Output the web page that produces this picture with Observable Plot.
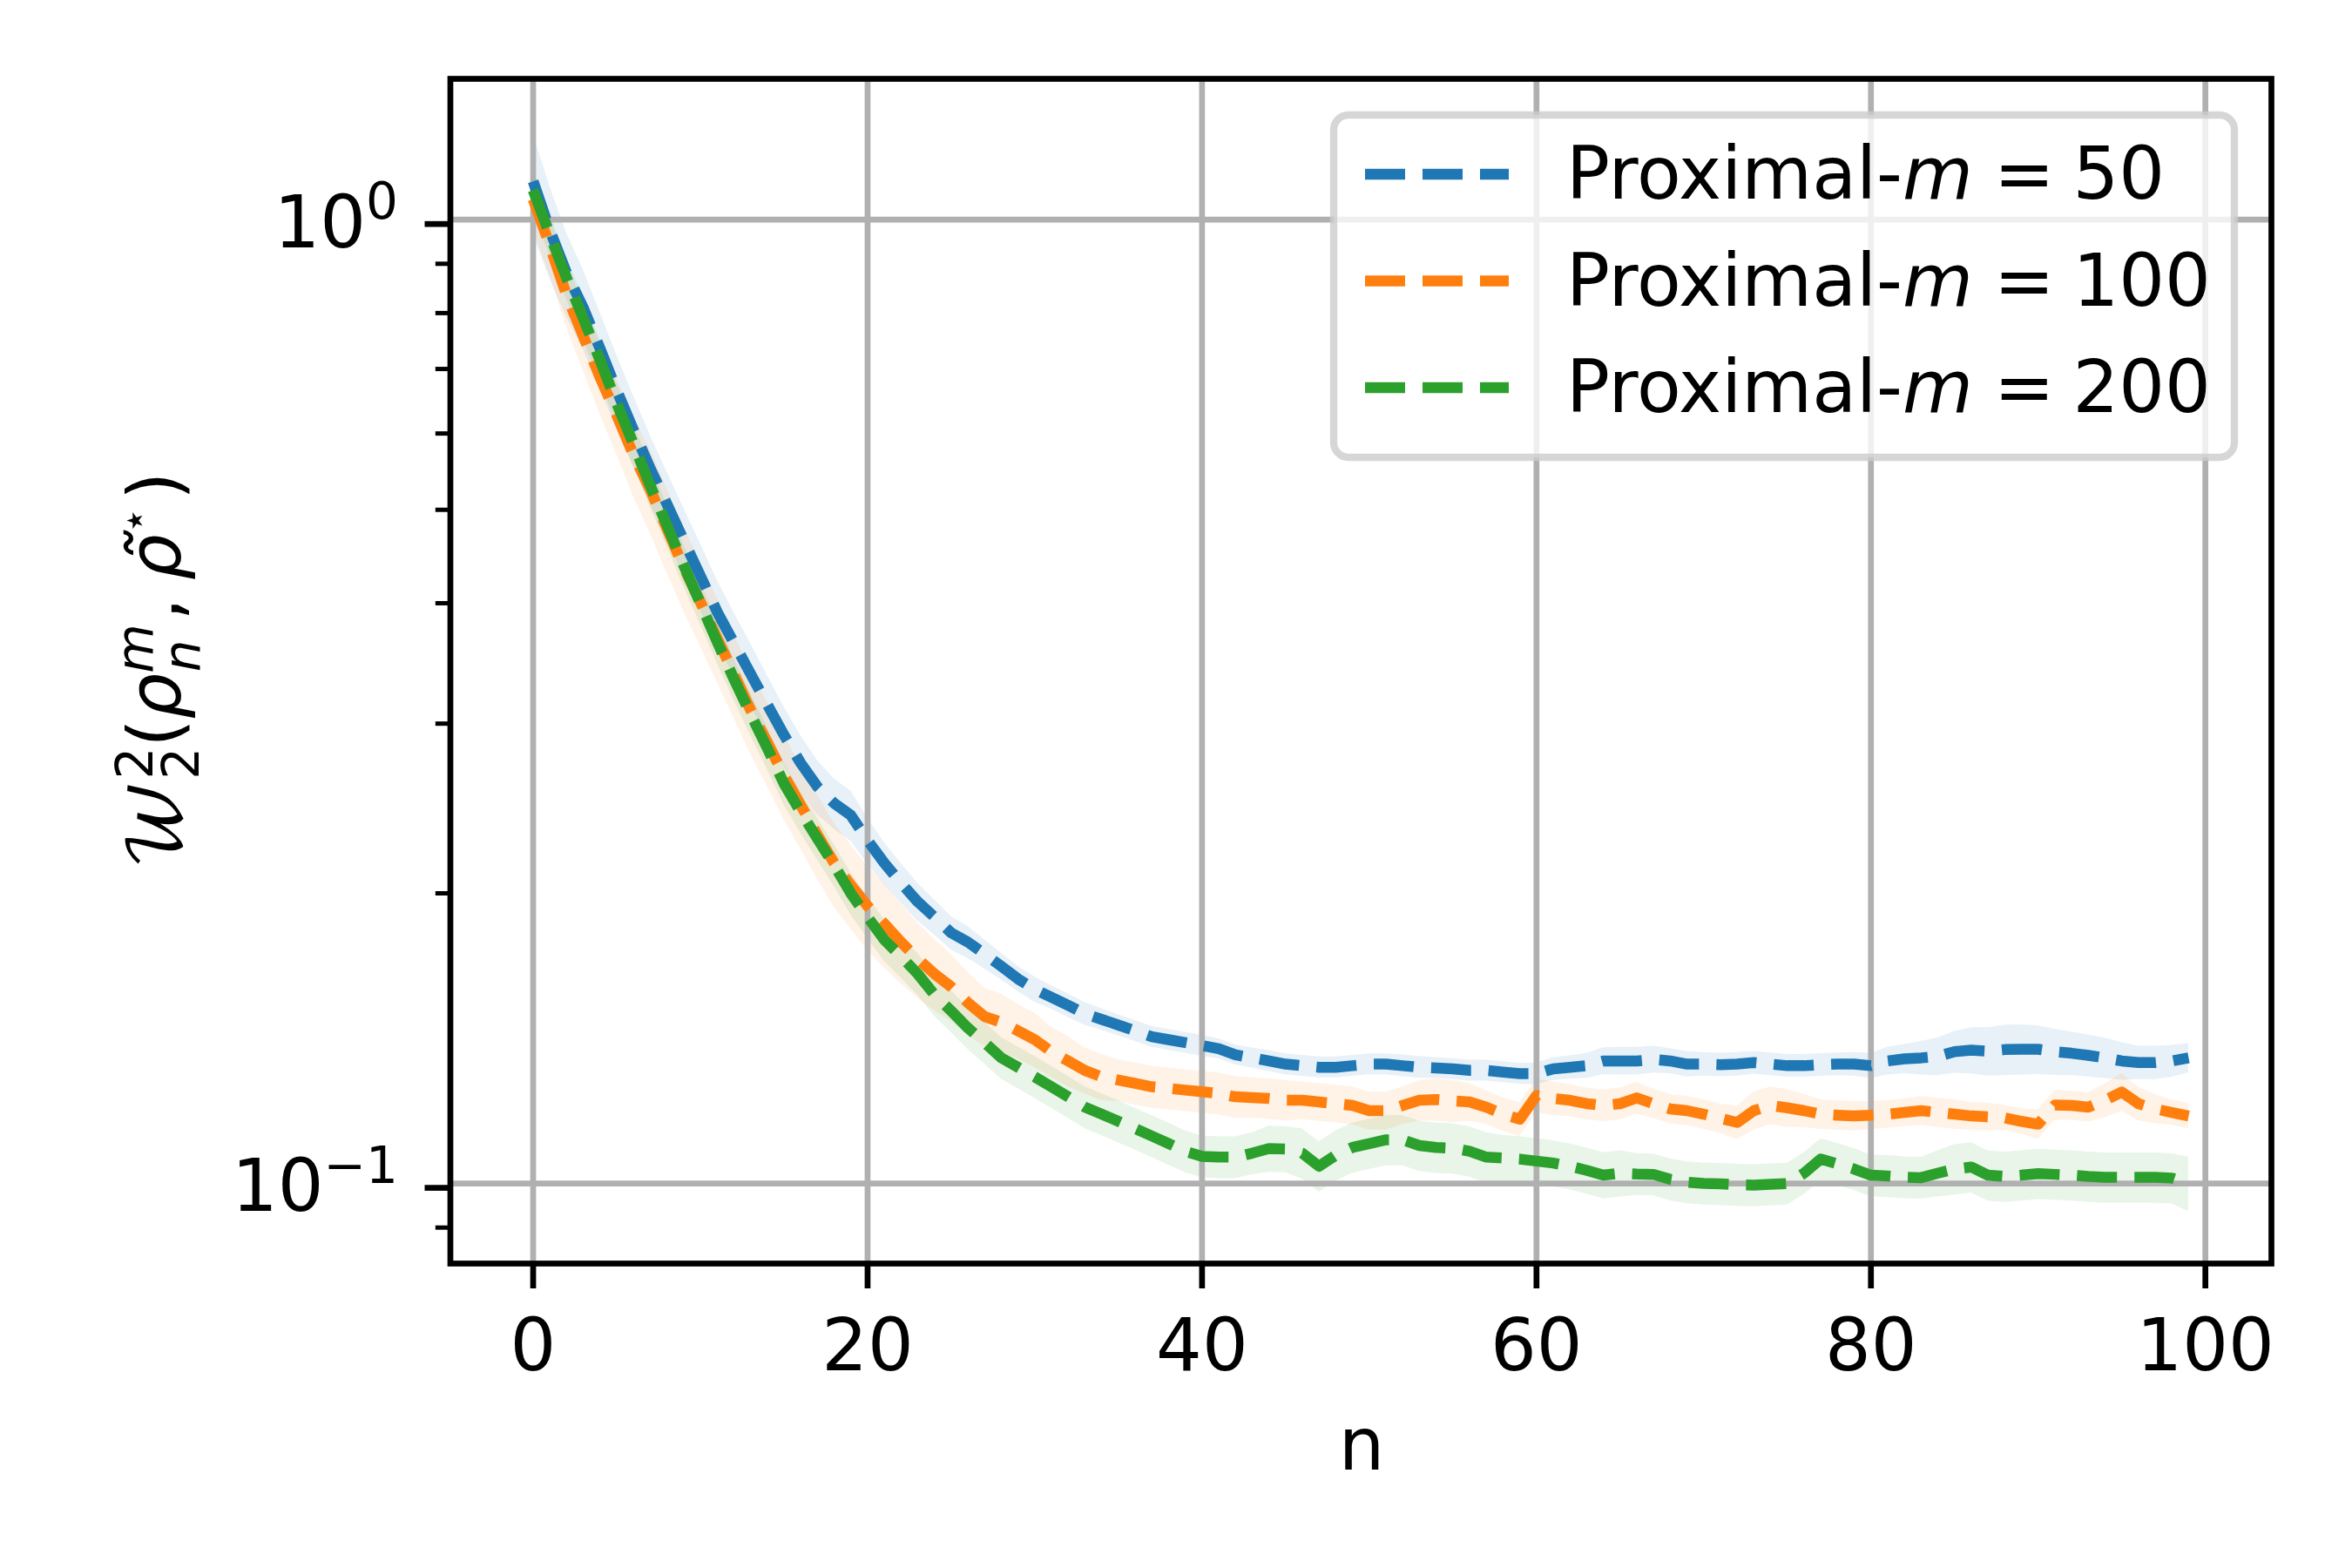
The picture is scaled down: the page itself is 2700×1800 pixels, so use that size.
<!DOCTYPE html>
<html>
<head>
<meta charset="utf-8">
<script src="https://cdn.jsdelivr.net/npm/d3@7"></script>
<script src="https://cdn.jsdelivr.net/npm/@observablehq/plot@0.6"></script>
<style>
  html, body { margin: 0; padding: 0; background: #fff; }
  svg { display: block; }
</style>
</head>
<body>
<div id="chart"></div>
<script>
// ---- data ----
const seriesNames = ["50", "100", "200"];          // m values in the legend
const seriesColors = ["#1f77b4", "#ff7f0e", "#2ca02c"];

const meanM50 = [1.096,0.975,0.88,0.81,0.735,0.665,0.605,0.552,0.507,0.465,
0.427,0.392,0.364,0.338,0.314,0.292,0.273,0.258,0.248,0.241,
0.227,0.215,0.205,0.196,0.189,0.182,0.178,0.173,0.168,0.163,
0.159,0.156,0.153,0.150,0.148,0.146,0.144,0.142,0.141,0.140,
0.139,0.138,0.136,0.135,0.134,0.133,0.1325,0.132,0.132,0.1325,
0.133,0.133,0.1325,0.132,0.1318,0.1315,0.131,0.131,0.1305,0.130,
0.130,0.1315,0.132,0.1325,0.134,0.134,0.134,0.1345,0.134,0.133,
0.133,0.1328,0.133,0.1335,0.133,0.1325,0.1325,0.1328,0.133,0.133,
0.1325,0.134,0.1347,0.135,0.1355,0.137,0.1375,0.1372,0.1377,0.1378,
0.1378,0.137,0.1365,0.1358,0.135,0.134,0.1335,0.1335,0.134,0.135];

const meanM100 = [1.05,0.94,0.835,0.757,0.686,0.627,0.57,0.525,0.478,0.436,
0.401,0.368,0.338,0.31,0.287,0.265,0.247,0.23,0.215,0.204,
0.194,0.186,0.178,0.171,0.165,0.16,0.154,0.149,0.147,0.144,
0.141,0.137,0.134,0.131,0.129,0.128,0.127,0.126,0.1255,0.125,
0.1245,0.124,0.123,0.1228,0.1225,0.122,0.122,0.1215,0.121,0.1205,
0.119,0.119,0.1205,0.122,0.1222,0.1218,0.1215,0.120,0.118,0.1166,
0.1234,0.1225,0.122,0.121,0.1205,0.121,0.1227,0.121,0.1195,0.119,
0.118,0.1168,0.1157,0.119,0.1205,0.1198,0.119,0.118,0.1177,0.1175,
0.1177,0.118,0.1185,0.119,0.1185,0.118,0.1175,0.1173,0.117,0.116,
0.1152,0.1206,0.1205,0.120,0.122,0.1244,0.121,0.1195,0.1185,0.1175];

const meanM200 = [1.073,0.965,0.87,0.79,0.715,0.645,0.585,0.53,0.482,0.438,
0.40,0.365,0.334,0.307,0.283,0.26,0.243,0.228,0.214,0.20,
0.189,0.179,0.172,0.165,0.157,0.151,0.145,0.14,0.135,0.132,
0.129,0.126,0.123,0.12,0.118,0.116,0.114,0.112,0.110,0.108,
0.1067,0.1065,0.1065,0.1075,0.1087,0.1086,0.1075,0.1042,0.107,0.109,
0.110,0.111,0.111,0.1095,0.109,0.1088,0.108,0.1065,0.1063,0.106,
0.1055,0.105,0.1042,0.1032,0.102,0.1025,0.1023,0.1022,0.101,0.1003,
0.100,0.0999,0.0997,0.0996,0.0998,0.100,0.1025,0.106,0.1048,0.1035,
0.102,0.1018,0.1015,0.1014,0.1025,0.1035,0.104,0.102,0.1017,0.102,
0.1024,0.1022,0.102,0.1017,0.1015,0.1015,0.1015,0.1015,0.1013,0.100];

// relative half-width of the shaded band around each mean
const spreadM50 = [.12,.11,.10,.095,.09,.088,.085,.082,.08,.08,
.08,.078,.075,.075,.072,.07,.068,.065,.06,.06,
.055,.05,.048,.045,.042,.04,.038,.035,.032,.03,
.03,.028,.028,.027,.026,.025,.025,.025,.025,.025,
.025,.024,.024,.024,.025,.025,.025,.025,.025,.025,
.025,.025,.026,.026,.025,.025,.025,.025,.025,.025,
.026,.027,.028,.03,.032,.033,.033,.032,.03,.03,
.028,.028,.028,.027,.027,.027,.027,.027,.027,.028,
.03,.033,.035,.04,.045,.05,.055,.058,.06,.06,
.058,.055,.052,.05,.048,.045,.04,.04,.038,.035];

const spreadM100 = [.07,.07,.075,.08,.085,.09,.095,.10,.10,.10,
.10,.10,.10,.10,.10,.10,.10,.10,.10,.10,
.10,.10,.095,.09,.085,.08,.075,.07,.07,.065,
.065,.06,.06,.055,.055,.05,.05,.05,.05,.05,
.05,.05,.05,.048,.048,.048,.045,.045,.045,.045,
.045,.045,.045,.048,.05,.05,.045,.04,.04,.04,
.04,.04,.038,.038,.038,.038,.038,.035,.035,.035,
.035,.035,.04,.045,.045,.045,.04,.035,.035,.035,
.033,.033,.033,.035,.035,.035,.033,.033,.03,.03,
.035,.035,.035,.035,.04,.045,.04,.035,.03,.03];

const spreadM200 = [.05,.05,.05,.05,.05,.05,.05,.05,.05,.05,
.05,.05,.05,.05,.05,.05,.05,.05,.05,.05,
.05,.05,.05,.05,.05,.05,.05,.05,.05,.05,
.05,.05,.05,.05,.05,.05,.05,.05,.05,.05,
.05,.05,.05,.05,.055,.055,.06,.06,.06,.06,
.06,.06,.06,.06,.06,.06,.06,.06,.055,.055,
.055,.055,.055,.055,.055,.055,.05,.05,.05,.05,
.05,.05,.05,.05,.05,.05,.05,.05,.05,.05,
.05,.05,.05,.05,.055,.06,.06,.06,.06,.06,
.06,.06,.06,.06,.06,.06,.06,.06,.06,.065];

const xTicks = [0, 20, 40, 60, 80, 100];
const yMajorTicks = [0.1, 1];
const yMajorExponents = ["\u22121", "0"];
const yMinorTicks = [0.09, 0.2, 0.3, 0.4, 0.5, 0.6, 0.7, 0.8, 0.9];
const xLabel = "n";

// ---- build tidy rows ----
const means = [meanM50, meanM100, meanM200];
const spreads = [spreadM50, spreadM100, spreadM200];
const rows = [];
means.forEach((arr, si) => {
  arr.forEach((v, i) => {
    rows.push({series: seriesNames[si], n: i, mean: v,
               lo: v * (1 - spreads[si][i]), hi: v * (1 + spreads[si][i])});
  });
});

const bandMarks = seriesNames.map((s, si) =>
  Plot.areaY(rows.filter(d => d.series === s), {
    x: "n", y1: "lo", y2: "hi", fill: seriesColors[si], fillOpacity: 0.1
  }));
const lineMarks = seriesNames.map((s, si) =>
  Plot.line(rows.filter(d => d.series === s), {
    x: "n", y: "mean", stroke: seriesColors[si], strokeWidth: 12.5,
    strokeDasharray: "46,20", strokeLinecap: "butt", strokeLinejoin: "round"
  }));

const chart = Plot.plot({
  width: 2700,
  height: 1800,
  marginLeft: 516.5,
  marginRight: 93,
  marginTop: 90,
  marginBottom: 350,
  style: {fontFamily: "DejaVu Sans", fontSize: "83px", background: "#fff", color: "#000", overflow: "visible"},
  x: {domain: [-4.95, 103.95]},
  y: {type: "log", domain: [0.08259, 1.400]},
  marks: [
    ...bandMarks,
    Plot.gridX(xTicks, {stroke: "#b0b0b0", strokeOpacity: 1, strokeWidth: 6.7}),
    Plot.gridY(yMajorTicks, {stroke: "#b0b0b0", strokeOpacity: 1, strokeWidth: 6.7}),
    ...lineMarks,
    Plot.frame({stroke: "#000", strokeWidth: 6.7}),
    Plot.axisX({ticks: xTicks, tickSize: 29, tickPadding: 35, strokeWidth: 6.7,
                fontSize: 83, label: null, tickFormat: d => String(d)}),
    Plot.axisY({ticks: yMinorTicks, tickSize: 16.7, strokeWidth: 5, label: null,
                tickFormat: () => ""}),
    Plot.axisY({ticks: yMajorTicks, tickSize: 29, tickPadding: 31, strokeWidth: 6.7,
                fontSize: 83, label: null, dy: 5,
                tickFormat: d => yMajorExponents[yMajorTicks.indexOf(d)]})
  ]
});

document.getElementById("chart").appendChild(chart);
const svg = d3.select(chart);

// superscript exponents on the y tick labels: 10^e
svg.selectAll('g[aria-label="y-axis tick label"] text').each(function() {
  const t = d3.select(this);
  const e = t.text();
  if (!e) return;
  t.text("10");
  t.append("tspan").attr("font-size", 58).attr("dy", -32.5).text(e);
});

// x label
svg.append("text")
  .attr("x", 1563).attr("y", 1687)
  .attr("text-anchor", "middle")
  .attr("font-size", 83).attr("font-family", "DejaVu Sans")
  .text(xLabel);

// y label  W_2^2(rho_n^m, rho~*)
const yl = svg.append("text")
  .attr("transform", "translate(207,770) rotate(-90)")
  .attr("text-anchor", "middle")
  .attr("font-size", 83).attr("font-family", "DejaVu Sans");
yl.append("tspan").attr("font-family", "DejaVu Math TeX Gyre, DejaVu Serif, DejaVu Sans").text("\u{1D4B2}");
yl.append("tspan").attr("font-size", 58).attr("dy", -32).text("2");
yl.append("tspan").attr("font-size", 58).attr("dx", -37).attr("dy", 53).text("2");
yl.append("tspan").attr("dy", -21).text("(");
yl.append("tspan").attr("font-style", "italic").text("\u03C1");
yl.append("tspan").attr("font-size", 58).attr("font-style", "italic").attr("dy", -32).text("m");
yl.append("tspan").attr("font-size", 58).attr("font-style", "italic").attr("dx", -55).attr("dy", 54).text("n");
yl.append("tspan").attr("dx", 22).attr("dy", -22).text(",");
yl.append("tspan").attr("dx", 20).attr("font-style", "italic").text("\u03C1\u0303");
yl.append("tspan").attr("font-size", 50).attr("dy", -36).text("\u22C6");
yl.append("tspan").attr("dx", 8).attr("dy", 36).text(")");

// legend inside the axes (upper right)
const lg = svg.append("g").attr("aria-label", "legend");
lg.append("rect")
  .attr("x", 1531).attr("y", 132).attr("width", 1034).attr("height", 393).attr("rx", 17)
  .attr("fill", "#fff").attr("fill-opacity", 0.8)
  .attr("stroke", "#cccccc").attr("stroke-opacity", 0.8).attr("stroke-width", 8.3);
seriesNames.forEach((s, i) => {
  const cy = 200 + i * 122.5;
  lg.append("line")
    .attr("x1", 1567).attr("x2", 1732).attr("y1", cy).attr("y2", cy)
    .attr("stroke", seriesColors[i]).attr("stroke-width", 12.5)
    .attr("stroke-dasharray", "46,20").attr("stroke-linecap", "butt");
  const t = lg.append("text")
    .attr("x", 1798).attr("y", 228 + i * 122.5)
    .attr("text-anchor", "start")
    .attr("font-size", 83).attr("font-family", "DejaVu Sans");
  t.append("tspan").text("Proximal-");
  t.append("tspan").attr("font-style", "italic").text("m");
  t.append("tspan").attr("dx", 24).text("=");
  t.append("tspan").attr("dx", 21).text(s);
});
</script>
</body>
</html>
